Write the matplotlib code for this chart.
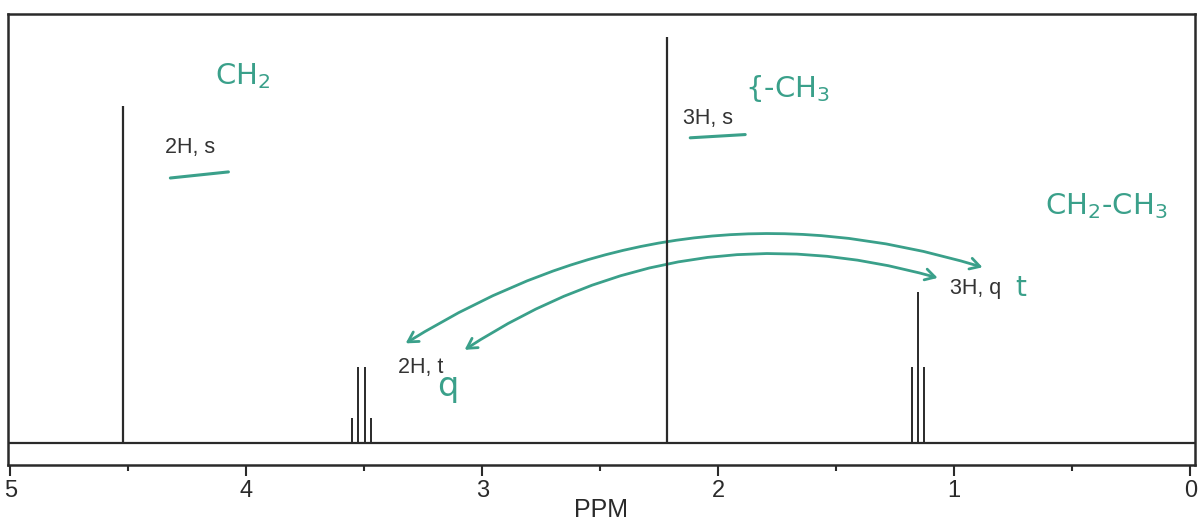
import matplotlib.pyplot as plt
from matplotlib.patches import FancyArrowPatch

# 1H NMR peaks (ppm, relative intensity, tallest = 100)
singlet_ppm = [4.523, 2.218]
singlet_int = [83.0, 100.0]
quartet_ppm = [3.552, 3.525, 3.499, 3.472]
quartet_int = [6.2, 18.7, 18.7, 6.2]
triplet_ppm = [1.179, 1.153, 1.129]
triplet_int = [18.7, 37.2, 18.7]

major_ticks = [5, 4, 3, 2, 1, 0]
minor_ticks = [4.5, 3.5, 2.5, 1.5, 0.5]

# printed peak labels
label_text = ['2H, s', '2H, t', '3H, s', '3H, q']
label_x = [4.343, 3.356, 2.148, 1.017]
label_y = [72.8, 18.7, 80.0, 38.1]

# handwritten notes
pen = '#3aa08a'
note_text = ['CH$_2$', '{-CH$_3$', 'CH$_2$-CH$_3$', 'q', 't']
note_x = [4.131, 1.886, 0.614, 3.148, 0.720]
note_y = [90.4, 87.3, 58.5, 13.9, 38.3]
note_size = [21, 21, 21, 24, 20]
note_ha = ['left', 'left', 'left', 'center', 'center']

line_col = '#2a2a2a'

fig = plt.figure(figsize=(12.02, 5.21), dpi=100)
ax = fig.add_axes([8 / 1202, 1 - 465 / 521, 1187 / 1202, 451 / 521])

ax.axhline(0, color=line_col, lw=1.6, zorder=2)
ax.vlines(singlet_ppm, 0, singlet_int, color=line_col, lw=1.6)
ax.vlines(quartet_ppm, 0, quartet_int, color=line_col, lw=1.4)
ax.vlines(triplet_ppm, 0, triplet_int, color=line_col, lw=1.4)

ax.set_xlim(5.01, -0.02)
ax.set_ylim(-5.4, 105.7)

ax.set_xticks(major_ticks)
ax.set_xticklabels([str(t) for t in major_ticks])
ax.set_xticks(minor_ticks, minor=True)
ax.set_yticks([])
ax.tick_params(axis='x', which='major', length=8, width=1.5, pad=3,
               labelsize=17, colors=line_col)
ax.tick_params(axis='x', which='minor', length=4, width=1.5, colors=line_col)
for t in ax.get_xticklabels():
    t.set_fontfamily('Liberation Sans')
for s in ax.spines.values():
    s.set_linewidth(1.8)
    s.set_color(line_col)

ax.set_xlabel('PPM', fontsize=18, family='Liberation Sans', color=line_col,
              labelpad=-3)

for txt, x, y in zip(label_text, label_x, label_y):
    ax.text(x, y, txt, fontsize=15.5, family='Liberation Sans',
            color='#333333', ha='left', va='center')

for txt, x, y, fs, ha in zip(note_text, note_x, note_y, note_size, note_ha):
    ax.text(x, y, txt, fontsize=fs, color=pen, ha=ha, va='center')

# underlines under the singlet labels
ax.plot([4.322, 4.076], [65.3, 66.8], color=pen, lw=2.2, solid_capstyle='round')
ax.plot([2.119, 1.886], [75.2, 76.0], color=pen, lw=2.2, solid_capstyle='round')

# coupling arrows between quartet and triplet
arrows = [((3.335, 24.2), (0.869, 43.1)), ((3.085, 22.6), (1.059, 40.5))]
for a, b in arrows:
    ax.add_patch(FancyArrowPatch(a, b, arrowstyle='<->,head_length=7,head_width=4',
                                 connectionstyle='arc3,rad=-0.23',
                                 color=pen, lw=2.0))

fig.savefig('out.png', dpi=100)
